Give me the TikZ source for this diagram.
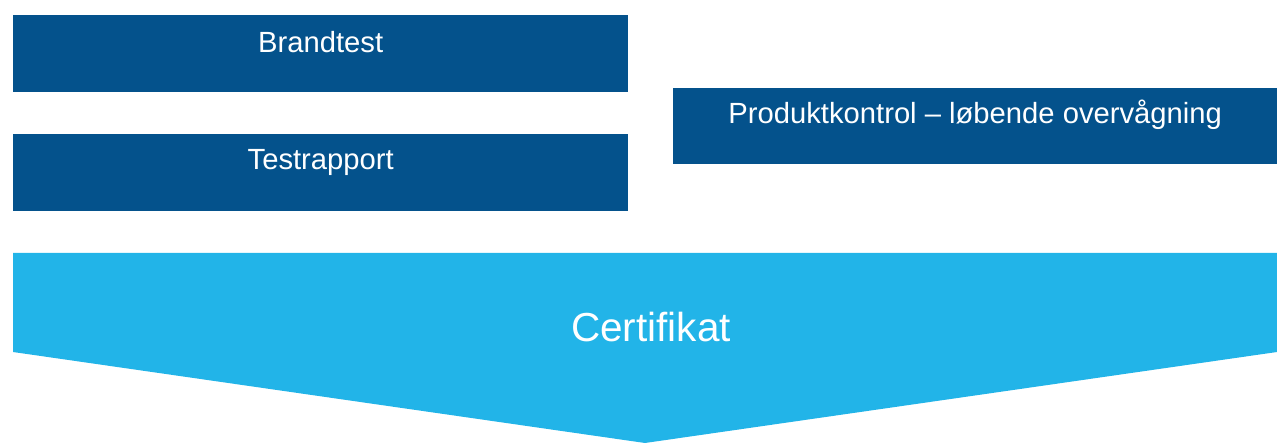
\documentclass[tikz,border=0pt]{standalone}
\usepackage{fontspec}
\setmainfont{Liberation Sans}
\definecolor{darkblue}{HTML}{04528C}
\definecolor{lightblue}{HTML}{22B4E8}
\begin{document}
\begin{tikzpicture}[x=1pt,y=-1pt,
  barbox/.style={fill=darkblue, draw=none, text=white, inner xsep=0pt, inner ysep=0pt,
    font=\fontsize{29.2}{32}\selectfont, anchor=north west},
  certtext/.style={text=white, font=\fontsize{40.5}{44}\selectfont, anchor=base, inner sep=0pt}]
\useasboundingbox (0,0) rectangle (1277,443);
\node[barbox, minimum width=615pt, text height=37pt, text depth=40pt] (brand) at (13,15) {Brandtest};
\node[barbox, minimum width=615pt, text height=35pt, text depth=42pt] (test) at (13,134) {Testrapport};
\node[barbox, minimum width=604pt, text height=35pt, text depth=41pt] (prod) at (673,88) {Produktkontrol – løbende overvågning};
\fill[lightblue] (13,253) -- (1277,253) -- (1277,352) -- (645,443) -- (13,352) -- cycle;
\node[certtext] (cert) at (651,342) {Certifikat};
\end{tikzpicture}
\end{document}
